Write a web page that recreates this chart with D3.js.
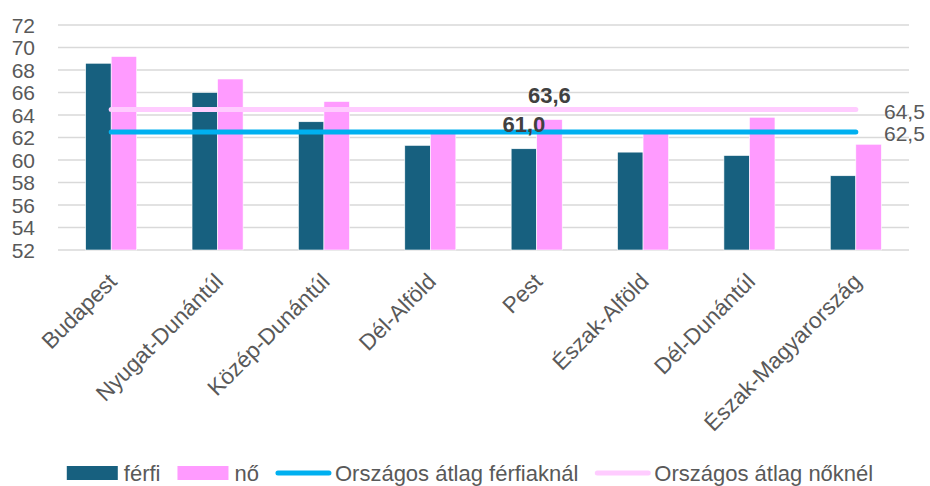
<!DOCTYPE html>
<html>
<head>
<meta charset="utf-8">
<script src="https://cdn.jsdelivr.net/npm/d3@7"></script>
<style>
  html, body { margin: 0; padding: 0; background: #fff; }
  svg { display: block; font-family: "Liberation Sans", Arial, sans-serif; }
</style>
</head>
<body>
<svg id="chart" width="930" height="486"></svg>
<script>
// Régiók
const regions = ["Budapest", "Nyugat-Dunántúl", "Közép-Dunántúl", "Dél-Alföld",
                 "Pest", "Észak-Alföld", "Dél-Dunántúl", "Észak-Magyarország"];
// Értékek nemenként
const ferfi = [68.6, 66.0, 63.4, 61.3, 61.0, 60.7, 60.4, 58.6];
const no    = [69.2, 67.2, 65.2, 62.4, 63.6, 62.5, 63.8, 61.4];
// Országos átlagok
const atlagFerfi = 62.5;
const atlagNo = 64.5;
// Tengely beosztás
const yTicks = [52, 54, 56, 58, 60, 62, 64, 66, 68, 70, 72];
// Külön felirattal jelölt oszlopok (régió, sorozat)
const labelled = [["Pest", "férfi"], ["Pest", "nő"]];

const seriesNames = ["férfi", "nő"];
const colors = { "férfi": "#17607F", "nő": "#FF9BFF" };
const lineColors = { ferfi: "#00B0F0", no: "#FFCCFF" };
const textGray = "#595959";

const svg = d3.select("#chart");
const plotLeft = 58, plotRight = 909, plotTop = 25, plotBottom = 250;

const y = d3.scaleLinear().domain([52, 72]).range([plotBottom, plotTop]);
const x0 = d3.scaleBand().domain(regions).range([plotLeft, plotRight]).paddingInner(0.52).paddingOuter(0.26);
const x1 = d3.scaleBand().domain(seriesNames).range([0, x0.bandwidth()]);

// Rácsvonalak
svg.append("g").selectAll("line").data(yTicks).join("line")
  .attr("x1", plotLeft).attr("x2", plotRight)
  .attr("y1", d => y(d)).attr("y2", d => y(d))
  .attr("stroke", "#D9D9D9").attr("stroke-width", 1.5);

// Y tengely feliratai
svg.append("g").selectAll("text").data(yTicks).join("text")
  .attr("x", 35).attr("y", d => y(d)).attr("dy", "0.36em")
  .attr("text-anchor", "end")
  .attr("font-size", 21).attr("fill", textGray)
  .text(d => d);

// Oszlopok
const rows = regions.map((r, i) => ({ region: r, values: { "férfi": ferfi[i], "nő": no[i] } }));
const groups = svg.append("g").selectAll("g").data(rows).join("g")
  .attr("transform", d => `translate(${x0(d.region)},0)`);
groups.selectAll("rect")
  .data(d => seriesNames.map(s => ({ region: d.region, series: s, value: d.values[s] })))
  .join("rect")
  .attr("x", d => x1(d.series))
  .attr("width", x1.bandwidth())
  .attr("y", d => y(d.value))
  .attr("height", d => y(52) - y(d.value))
  .attr("fill", d => colors[d.series])
  .attr("stroke", "#ffffff").attr("stroke-width", 0.6);

// Országos átlag vonalak
const cFirst = x0(regions[0]) + x0.bandwidth() / 2;
const cLast = x0(regions[regions.length - 1]) + x0.bandwidth() / 2;
const avgLines = [
  { value: atlagNo, color: lineColors.no, width: 5 },
  { value: atlagFerfi, color: lineColors.ferfi, width: 5 }
];
svg.append("g").selectAll("line").data(avgLines).join("line")
  .attr("x1", cFirst).attr("x2", cLast)
  .attr("y1", d => y(d.value)).attr("y2", d => y(d.value))
  .attr("stroke", d => d.color).attr("stroke-width", d => d.width)
  .attr("stroke-linecap", "round");

const fmt = v => d3.format(".1f")(v).replace(".", ",");

// Átlagértékek a vonalak végén
svg.append("g").selectAll("text").data(avgLines).join("text")
  .attr("x", 884).attr("y", d => y(d.value) + 2).attr("dy", "0.36em")
  .attr("font-size", 21).attr("fill", textGray)
  .text(d => fmt(d.value));

// Adatfeliratok
svg.append("g").selectAll("text").data(labelled).join("text")
  .attr("x", d => x0(d[0]) + x1(d[1]) + x1.bandwidth() / 2)
  .attr("y", d => {
    const i = regions.indexOf(d[0]);
    const v = d[1] === "férfi" ? ferfi[i] : no[i];
    return y(v) - 17;
  })
  .attr("text-anchor", "middle")
  .attr("font-size", 22).attr("font-weight", "bold").attr("fill", "#404040")
  .text(d => {
    const i = regions.indexOf(d[0]);
    return fmt(d[1] === "férfi" ? ferfi[i] : no[i]);
  });

// X tengely feliratai (45°-ban elforgatva)
svg.append("g").selectAll("text").data(regions).join("text")
  .attr("transform", d => `translate(${x0(d) + x0.bandwidth() / 2 + 7},${283}) rotate(-45)`)
  .attr("text-anchor", "end")
  .attr("font-size", 22.5).attr("fill", textGray)
  .text(d => d);

// Jelmagyarázat
const legendItems = [
  { label: "férfi", type: "rect", color: colors["férfi"] },
  { label: "nő", type: "rect", color: colors["nő"] },
  { label: "Országos átlag férfiaknál", type: "line", color: lineColors.ferfi },
  { label: "Országos átlag nőknél", type: "line", color: lineColors.no }
];
const legend = svg.append("g");
let lx = 0;
const ly = 473;
legendItems.forEach((it, i) => {
  const g = legend.append("g");
  if (it.type === "rect") {
    g.append("rect").attr("x", lx).attr("y", ly - 7).attr("width", 51).attr("height", 14).attr("fill", it.color);
    lx += 51 + 6;
  } else {
    g.append("line").attr("x1", lx + 2).attr("x2", lx + 53).attr("y1", ly).attr("y2", ly)
      .attr("stroke", it.color).attr("stroke-width", 5).attr("stroke-linecap", "round");
    lx += 57 + 2;
  }
  const t = g.append("text").attr("x", lx).attr("y", ly).attr("dy", "0.36em")
    .attr("font-size", 22).attr("fill", textGray).text(it.label);
  lx += t.node().getComputedTextLength() + 17;
});
const legendWidth = lx - 17;
legend.attr("transform", `translate(${470 - legendWidth / 2},0)`);
</script>
</body>
</html>
